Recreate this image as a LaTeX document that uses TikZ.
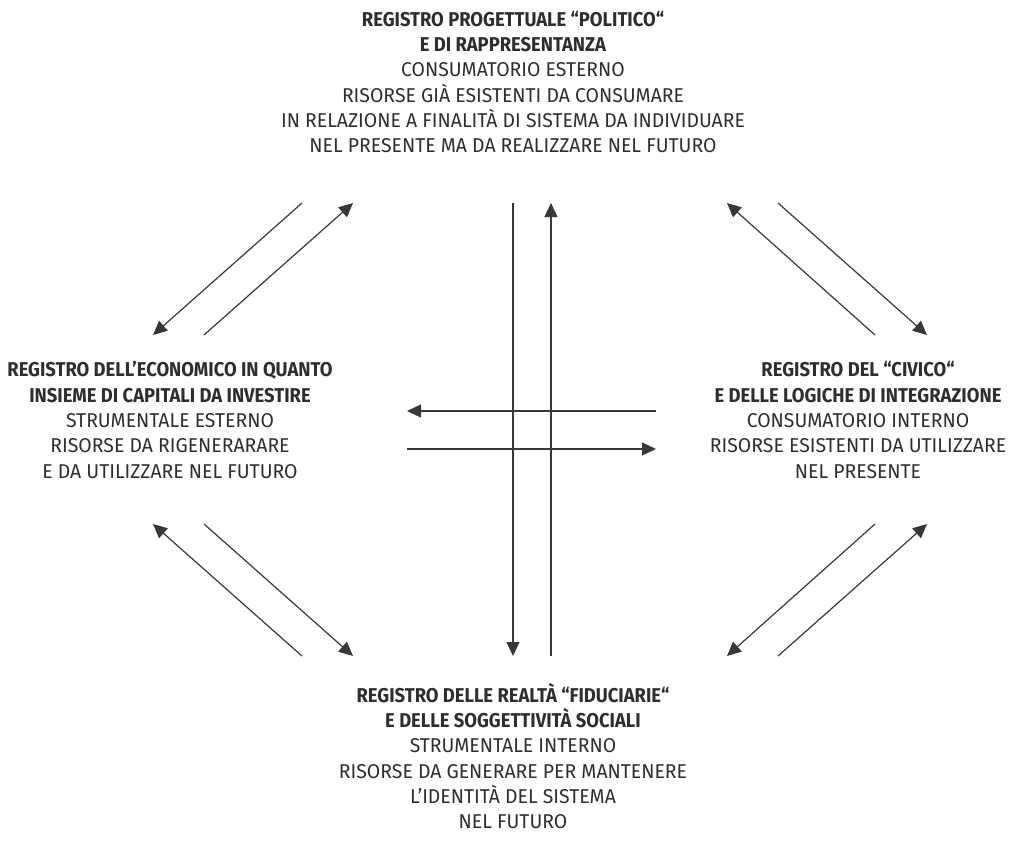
\documentclass[tikz,border=0pt]{standalone}
\usepackage{fontspec}
\setmainfont{Fira Sans}[FakeStretch=0.97, BoldFeatures={FakeStretch=0.92}]
\usetikzlibrary{arrows.meta}
\begin{document}
\begin{tikzpicture}[x=1pt,y=-1pt,
  txt/.style={align=center, font=\fontsize{20}{25.3}\selectfont, text=black!82, inner sep=0pt},
  ln/.style={line width=1.2pt, draw=black!78},
  arr/.style={ln, -{Triangle[length=14pt,width=13pt]}}]
\useasboundingbox (0,0) rectangle (1026,846);
\node[txt] (top) at (513,82) {\textbf{REGISTRO PROGETTUALE “POLITICO“}\\
\textbf{E DI RAPPRESENTANZA}\\
CONSUMATORIO ESTERNO\\
RISORSE GIÀ ESISTENTI DA CONSUMARE\\
IN RELAZIONE A FINALITÀ DI SISTEMA DA INDIVIDUARE\\
NEL PRESENTE MA DA REALIZZARE NEL FUTURO};
\node[txt] (left) at (170,420) {\textbf{REGISTRO DELL’ECONOMICO IN QUANTO}\\
\textbf{INSIEME DI CAPITALI DA INVESTIRE}\\
STRUMENTALE ESTERNO\\
RISORSE DA RIGENERARARE\\
E DA UTILIZZARE NEL FUTURO};
\node[txt] (right) at (858,420) {\textbf{REGISTRO DEL “CIVICO“}\\
\textbf{E DELLE LOGICHE DI INTEGRAZIONE}\\
CONSUMATORIO INTERNO\\
RISORSE ESISTENTI DA UTILIZZARE\\
NEL PRESENTE};
\node[txt] (bottom) at (513,756) {\textbf{REGISTRO DELLE REALTÀ “FIDUCIARIE“}\\
\textbf{E DELLE SOGGETTIVITÀ SOCIALI}\\
STRUMENTALE INTERNO\\
RISORSE DA GENERARE PER MANTENERE\\
L’IDENTITÀ DEL SISTEMA\\
NEL FUTURO};
% coordinates
\coordinate (tla) at (302,203); \coordinate (tlb) at (153,335);
\coordinate (tlc) at (204,335); \coordinate (tld) at (353,203);
\coordinate (tra) at (875,335); \coordinate (trb) at (727,203);
\coordinate (trc) at (778,203); \coordinate (trd) at (927,335);
\coordinate (bla) at (302,656); \coordinate (blb) at (153,524);
\coordinate (blc) at (204,524); \coordinate (bld) at (353,656);
\coordinate (bra) at (875,524); \coordinate (brb) at (727,656);
\coordinate (brc) at (778,656); \coordinate (brd) at (927,524);
\coordinate (va) at (513,203); \coordinate (vb) at (513,656);
\coordinate (vc) at (551,656); \coordinate (vd) at (551,203);
\coordinate (ha) at (656,411); \coordinate (hb) at (407,411);
\coordinate (hc) at (407,449); \coordinate (hd) at (656,449);
\draw[arr] (tla) -- (tlb);
\draw[arr] (tlc) -- (tld);
\draw[arr] (tra) -- (trb);
\draw[arr] (trc) -- (trd);
\draw[arr] (bla) -- (blb);
\draw[arr] (blc) -- (bld);
\draw[arr] (bra) -- (brb);
\draw[arr] (brc) -- (brd);
\draw[arr] (va) -- (vb);
\draw[arr] (vc) -- (vd);
\draw[arr] (ha) -- (hb);
\draw[arr] (hc) -- (hd);
\end{tikzpicture}
\end{document}
